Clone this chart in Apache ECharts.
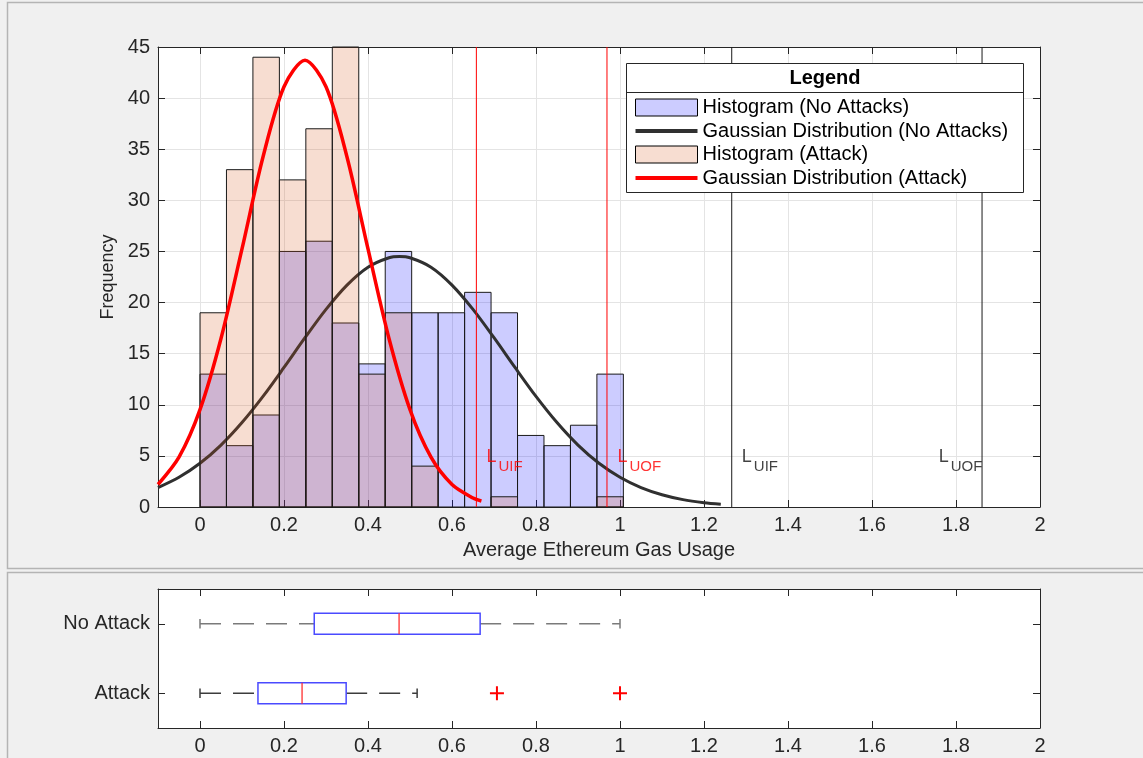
<!DOCTYPE html>
<html><head><meta charset="utf-8">
<script src="https://cdn.jsdelivr.net/npm/echarts@6/dist/echarts.min.js"></script>
<style>html,body{margin:0;padding:0;background:#f0f0f0;} #c{width:1143px;height:758px;}</style>
</head><body><div id="c"></div>
<script>
// ---------- data ----------
const binEdges = [0,0.063,0.126,0.189,0.252,0.315,0.378,0.441,0.504,0.567,0.63,0.693,0.756,0.819,0.882,0.945,1.008];
const histNoAttack = [13,6,9,25,26,18,14,25,19,19,21,19,7,6,8,13];
const histAttack   = [19,33,44,32,37,46,13,19,4,0,0,1,0,0,0,1];

const gaussNoX = [-0.1,-0.05,0,0.05,0.1,0.15,0.2,0.25,0.3,0.35,0.4,0.45,0.475,0.5,0.55,0.6,0.65,0.7,0.75,0.8,0.85,0.9,0.95,1.0,1.05,1.1,1.15,1.2,1.24];
const gaussNoY = [1.90,2.91,4.28,6.06,8.26,10.82,13.65,16.56,19.33,21.71,23.46,24.38,24.5,24.38,23.46,21.71,19.33,16.56,13.65,10.82,8.26,6.06,4.28,2.91,1.90,1.20,0.72,0.42,0.27];
const gaussAtkX = [-0.1,-0.05,0,0.05,0.1,0.15,0.2,0.25,0.3,0.35,0.4,0.45,0.5,0.55,0.6,0.65,0.67];
const gaussAtkY = [2.20,4.87,9.52,16.48,25.25,34.24,41.11,43.7,41.11,34.24,25.25,16.48,9.52,4.87,2.20,0.88,0.59];

const xTicks = [0,0.2,0.4,0.6,0.8,1,1.2,1.4,1.6,1.8,2];

const limitX = [0.658, 0.969, 1.266, 1.862];
const limitColor = ['#ff0000','#ff0000','#1a1a1a','#1a1a1a'];
const limitLabelX = [0.682, 0.994, 1.290, 1.759];
const limitLabelY = [4.9, 4.9, 4.9, 4.9];
const limitLabelSub = ['UIF','UOF','UIF','UOF'];
const limitLabelColor = ['#ff0000','#ff0000','#111111','#111111'];

const boxCategories = ['Attack','No Attack'];
// [min, q1, median, q3, max]
const boxStats = [[0,0.138,0.243,0.348,0.517],[0,0.272,0.474,0.667,1.0]];
const outlierX = [0.707, 1.0];
const outlierCat = ['Attack','Attack'];

const legendNames = ['Histogram (No Attacks)','Gaussian Distribution (No Attacks)','Histogram (Attack)','Gaussian Distribution (Attack)'];

// ---------- chart ----------
const FONT = '"Liberation Sans", Arial, Helvetica, sans-serif';
const AX = '#262626';
const FS = 20;
const blueFill = 'rgba(0,0,255,0.2)';
const peachFill = 'rgba(217,83,25,0.2)';
const blackCurve = '#303030';
const Y_MIN = 0, Y_MAX = 45;

function histRender(fill){
  return function(params, api){
    const c = api.value(2);
    if (!c) return null;
    const p0 = api.coord([api.value(0), c]);
    const p1 = api.coord([api.value(1), 0]);
    const cs = params.coordSys;
    const shape = echarts.graphic.clipRectByRect(
      {x:p0[0], y:p0[1], width:p1[0]-p0[0], height:p1[1]-p0[1]},
      {x:cs.x, y:cs.y, width:cs.width, height:cs.height});
    if (!shape) return null;
    return {type:'rect', shape:shape, style:{fill:fill, stroke:'#1a1a1a', lineWidth:1}};
  };
}

function boxRender(params, api){
  const yi = api.value(0);
  const c = k => api.coord([api.value(k), yi]);
  const pMin=c(1), pQ1=c(2), pMed=c(3), pQ3=c(4), pMax=c(5);
  const band = api.size([0,1])[1];
  const bh = band*0.30, ch = band*0.14;
  const y = pMin[1];
  const wc = yi === 1 ? '#7a7a7a' : '#3c3c3c';
  const ws = {stroke:wc, lineWidth:1.5, lineDash:[21,12]};
  return {type:'group', children:[
    {type:'line', shape:{x1:pMin[0],y1:y,x2:pQ1[0],y2:y}, style:ws},
    {type:'line', shape:{x1:pQ3[0],y1:y,x2:pMax[0],y2:y}, style:ws},
    {type:'line', shape:{x1:pMin[0],y1:y-ch/2,x2:pMin[0],y2:y+ch/2}, style:{stroke:wc,lineWidth:1.5}},
    {type:'line', shape:{x1:pMax[0],y1:y-ch/2,x2:pMax[0],y2:y+ch/2}, style:{stroke:wc,lineWidth:1.5}},
    {type:'rect', shape:{x:pQ1[0], y:y-bh/2, width:pQ3[0]-pQ1[0], height:bh}, style:{fill:'#ffffff', stroke:'#4a4aff', lineWidth:1.5}},
    {type:'line', shape:{x1:pMed[0],y1:y-bh/2,x2:pMed[0],y2:y+bh/2}, style:{stroke:'#ff3030',lineWidth:1.3}}
  ]};
}

const chart = echarts.init(document.getElementById('c'));

const tickStyle = {color:AX, width:1};
const labelStyle = {fontSize:FS, color:AX, fontFamily:FONT};
const fmt = v => String(+(+v).toFixed(1));

const limitSeries = limitX.map((x,i)=>({
  name:'limit'+i, type:'line', xAxisIndex:0, yAxisIndex:0, z:6, silent:true,
  data:[[x, Y_MIN],[x, Y_MAX]], symbol:'none', showSymbol:false,
  lineStyle:{color:limitColor[i], width:1}, itemStyle:{color:limitColor[i]}
}));

const option = {
  animation:false,
  backgroundColor:'#f0f0f0',
  grid:[
    {left:158, top:47, width:882, height:460, show:true, backgroundColor:'#ffffff', borderWidth:0},
    {left:158, top:589, width:882, height:139, show:true, backgroundColor:'#ffffff', borderWidth:0}
  ],
  xAxis:[
    {type:'value', gridIndex:0, min:-0.1, max:2, position:'bottom',
     axisLine:{show:true, onZero:false, lineStyle:tickStyle},
     axisTick:{show:true, inside:true, length:7, customValues:xTicks, lineStyle:tickStyle},
     axisLabel:{show:true, customValues:xTicks, margin:8, ...labelStyle, formatter:fmt},
     splitLine:{show:true, lineStyle:{color:'#e4e4e4', width:1}},
     name:'Average Ethereum Gas Usage', nameLocation:'middle', nameGap:33,
     nameTextStyle:{fontSize:FS, color:AX, fontFamily:FONT}},
    {type:'value', gridIndex:0, min:-0.1, max:2, position:'top',
     axisLine:{show:true, onZero:false, lineStyle:tickStyle},
     axisTick:{show:true, inside:true, length:7, customValues:xTicks, lineStyle:tickStyle},
     axisLabel:{show:false}, splitLine:{show:false}},
    {type:'value', gridIndex:1, min:-0.1, max:2, position:'bottom',
     axisLine:{show:true, onZero:false, lineStyle:tickStyle},
     axisTick:{show:true, inside:true, length:7, customValues:xTicks, lineStyle:tickStyle},
     axisLabel:{show:true, customValues:xTicks, margin:8, ...labelStyle, formatter:fmt},
     splitLine:{show:false}},
    {type:'value', gridIndex:1, min:-0.1, max:2, position:'top',
     axisLine:{show:true, onZero:false, lineStyle:tickStyle},
     axisTick:{show:true, inside:true, length:7, customValues:xTicks, lineStyle:tickStyle},
     axisLabel:{show:false}, splitLine:{show:false}}
  ],
  yAxis:[
    {type:'value', gridIndex:0, min:Y_MIN, max:Y_MAX, interval:5, position:'left',
     axisLine:{show:true, onZero:false, lineStyle:tickStyle},
     axisTick:{show:true, inside:true, length:7, lineStyle:tickStyle},
     axisLabel:{show:true, margin:8, ...labelStyle},
     splitLine:{show:true, lineStyle:{color:'#e4e4e4', width:1}},
     name:'Frequency', nameLocation:'middle', nameGap:37, nameRotate:90,
     nameTextStyle:{fontSize:18, color:AX, fontFamily:FONT}},
    {type:'value', gridIndex:0, min:Y_MIN, max:Y_MAX, interval:5, position:'right',
     axisLine:{show:true, onZero:false, lineStyle:tickStyle},
     axisTick:{show:true, inside:true, length:7, lineStyle:tickStyle},
     axisLabel:{show:false}, splitLine:{show:false}},
    {type:'category', gridIndex:1, data:boxCategories, position:'left',
     axisLine:{show:true, onZero:false, lineStyle:tickStyle},
     axisTick:{show:true, inside:true, length:7, alignWithLabel:true, lineStyle:tickStyle},
     axisLabel:{show:true, margin:8, ...labelStyle},
     splitLine:{show:false}},
    {type:'category', gridIndex:1, data:boxCategories, position:'right',
     axisLine:{show:true, onZero:false, lineStyle:tickStyle},
     axisTick:{show:true, inside:true, length:7, alignWithLabel:true, lineStyle:tickStyle},
     axisLabel:{show:false}, splitLine:{show:false}}
  ],
  legend:{
    orient:'vertical', left:635, top:97.5, itemWidth:62, itemHeight:17, itemGap:3.5, padding:0, z:12,
    selectedMode:false,
    textStyle:{fontSize:FS, color:'#000', fontFamily:FONT},
    data:[
      {name:legendNames[0], icon:'rect', itemStyle:{color:blueFill, borderColor:'#000', borderWidth:1}},
      {name:legendNames[1], icon:'path://M0,0H62V4H0Z', itemStyle:{color:blackCurve, borderWidth:0}},
      {name:legendNames[2], icon:'rect', itemStyle:{color:peachFill, borderColor:'#000', borderWidth:1}},
      {name:legendNames[3], icon:'path://M0,0H62V4H0Z', itemStyle:{color:'#ff0000', borderWidth:0}}
    ]
  },
  graphic:[
    {type:'rect', shape:{x:7.5, y:2.5, width:1200, height:566}, style:{fill:'none', stroke:'#b4b4b4', lineWidth:1.5}, z:1},
    {type:'rect', shape:{x:7.5, y:572.5, width:1200, height:300}, style:{fill:'none', stroke:'#b4b4b4', lineWidth:1.5}, z:1},
    {type:'rect', shape:{x:626.5, y:63.5, width:397, height:129}, style:{fill:'#ffffff', stroke:'#262626', lineWidth:1}, z:10},
    {type:'line', shape:{x1:626.5, y1:92.5, x2:1023.5, y2:92.5}, style:{stroke:'#262626', lineWidth:1}, z:11},
    {type:'text', x:825, y:78, style:{text:'Legend', fontSize:FS, fontWeight:'bold', fontFamily:FONT, fill:'#000', align:'center', verticalAlign:'middle'}, z:11}
  ],
  series:[
    {name:legendNames[0], type:'custom', xAxisIndex:0, yAxisIndex:0, z:2,
     data:histNoAttack.map((v,i)=>[binEdges[i], binEdges[i+1], v]),
     encode:{x:[0,1], y:2}, renderItem:histRender(blueFill),
     itemStyle:{color:blueFill, borderColor:'#000', borderWidth:1}},
    {name:legendNames[1], type:'line', xAxisIndex:0, yAxisIndex:0, z:3,
     data:gaussNoX.map((x,i)=>[x, gaussNoY[i]]), symbol:'none', showSymbol:false, smooth:0.3,
     lineStyle:{color:blackCurve, width:3}, itemStyle:{color:blackCurve}},
    {name:legendNames[2], type:'custom', xAxisIndex:0, yAxisIndex:0, z:4,
     data:histAttack.map((v,i)=>[binEdges[i], binEdges[i+1], v]),
     encode:{x:[0,1], y:2}, renderItem:histRender(peachFill),
     itemStyle:{color:peachFill, borderColor:'#000', borderWidth:1}},
    {name:legendNames[3], type:'line', xAxisIndex:0, yAxisIndex:0, z:5,
     data:gaussAtkX.map((x,i)=>[x, gaussAtkY[i]]), symbol:'none', showSymbol:false, smooth:0.3,
     lineStyle:{color:'#ff0000', width:3.5}, itemStyle:{color:'#ff0000'}},
    ...limitSeries,
    {name:'limitL', type:'scatter', xAxisIndex:0, yAxisIndex:0, z:7, symbolSize:0, silent:true,
     data:limitLabelX.map((x,i)=>({value:[x, limitLabelY[i]], label:{color:limitLabelColor[i]}})),
     label:{show:true, position:[0,0], align:'left', verticalAlign:'middle', formatter:'L', fontSize:18, fontFamily:FONT}},
    {name:'limitSub', type:'scatter', xAxisIndex:0, yAxisIndex:0, z:7, symbolSize:0, silent:true,
     data:limitLabelX.map((x,i)=>({value:[x, limitLabelY[i]], name:limitLabelSub[i], label:{color:limitLabelColor[i]}})),
     label:{show:true, position:[12,9.6], align:'left', verticalAlign:'middle', formatter:'{b}', fontSize:15, fontFamily:FONT}},
    {name:'box', type:'custom', xAxisIndex:2, yAxisIndex:2, z:3,
     data:boxStats.map((s,i)=>[i].concat(s)),
     encode:{y:0, x:[1,2,3,4,5]}, renderItem:boxRender},
    {name:'outliers', type:'scatter', xAxisIndex:2, yAxisIndex:2, z:4,
     data:outlierX.map((x,i)=>[x, outlierCat[i]]),
     symbol:'path://M6,0H8V6H14V8H8V14H6V8H0V6H6Z', symbolSize:14,
     itemStyle:{color:'#ff0000', opacity:1}}
  ]
};
chart.setOption(option);
</script>
</body></html>
